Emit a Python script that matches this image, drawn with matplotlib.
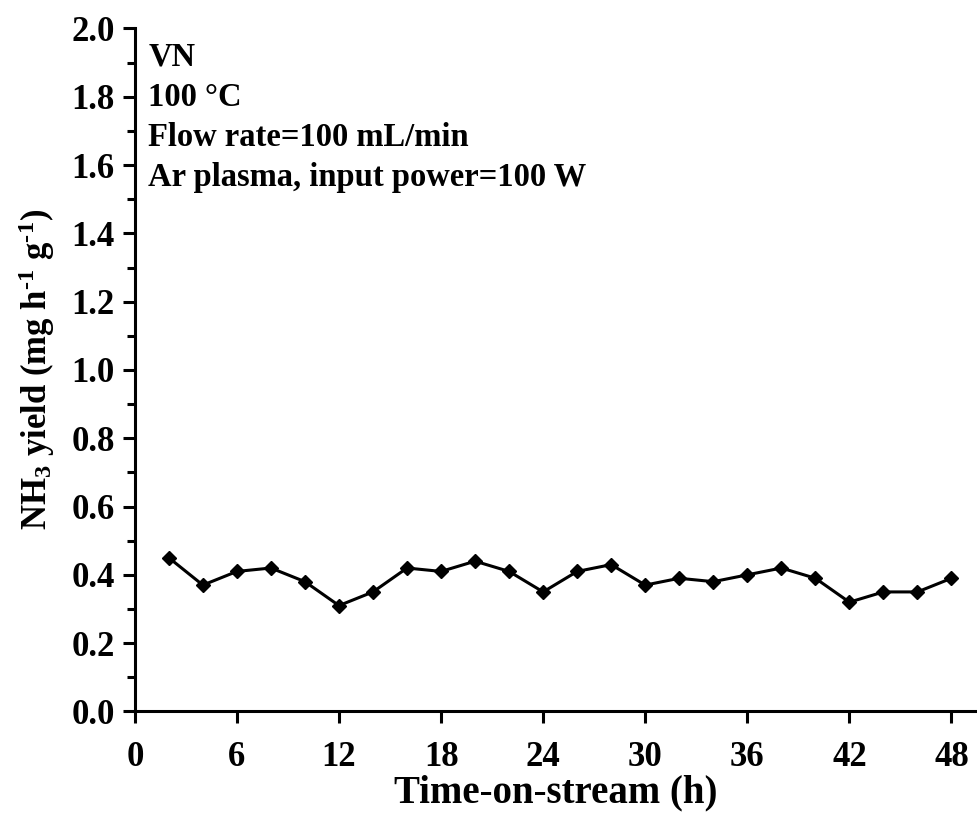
import numpy as np
import matplotlib.pyplot as plt

plt.rcParams['font.family'] = ['Liberation Serif', 'DejaVu Serif']
plt.rcParams['font.weight'] = 'bold'
plt.rcParams['mathtext.fontset'] = 'custom'
plt.rcParams['mathtext.rm'] = 'Liberation Serif:bold'
plt.rcParams['mathtext.default'] = 'rm'

time_h = [2, 4, 6, 8, 10, 12, 14, 16, 18, 20, 22, 24,
          26, 28, 30, 32, 34, 36, 38, 40, 42, 44, 46, 48]
nh3_yield = [0.45, 0.37, 0.41, 0.42, 0.38, 0.31, 0.35, 0.42, 0.41, 0.44, 0.41, 0.35,
             0.41, 0.43, 0.37, 0.39, 0.38, 0.40, 0.42, 0.39, 0.32, 0.35, 0.35, 0.39]
notes = ["VN", "100 \u00b0C", "Flow rate=100 mL/min", "Ar plasma, input power=100 W"]

fig = plt.figure(figsize=(9.77, 8.14), dpi=100)
ax = fig.add_axes([0.138, 0.126, 0.862, 0.839])

ax.plot(time_h, nh3_yield, color='black', linewidth=2.2, marker='D', markersize=7)

ax.set_xlim(0, 49.5)
ax.set_ylim(0, 2.0)
ax.set_xticks(np.arange(0, 49, 6))
ax.set_yticks(np.arange(0, 2.01, 0.2))
ax.set_yticks(np.arange(0.1, 2.0, 0.2), minor=True)
ax.yaxis.set_major_formatter(plt.FormatStrFormatter('%.1f'))

ax.spines['top'].set_visible(False)
ax.spines['right'].set_visible(False)
ax.spines['left'].set_linewidth(2.2)
ax.spines['bottom'].set_linewidth(2.2)
ax.tick_params(axis='both', which='major', direction='out', length=8.5, width=2.2, labelsize=25)
ax.tick_params(axis='x', which='major', pad=13)
ax.tick_params(axis='y', which='major', pad=6)
ax.tick_params(axis='y', which='minor', direction='out', length=6, width=2.2)

# condition notes, top left
for i, line in enumerate(notes):
    ax.text(0.016, 0.958 - i * 0.0586, line, transform=ax.transAxes,
            fontsize=23.5, fontweight='bold', va='center', ha='left')

ax.set_xlabel("Time-on-stream (h)", fontsize=28, fontweight='bold', labelpad=0)
ax.set_ylabel(r"NH$_3$ yield (mg h$^{\text{-1}}$ g$^{\text{-1}}$)", fontsize=25, fontweight='bold', labelpad=10)

fig.savefig("out.png", dpi=100)
